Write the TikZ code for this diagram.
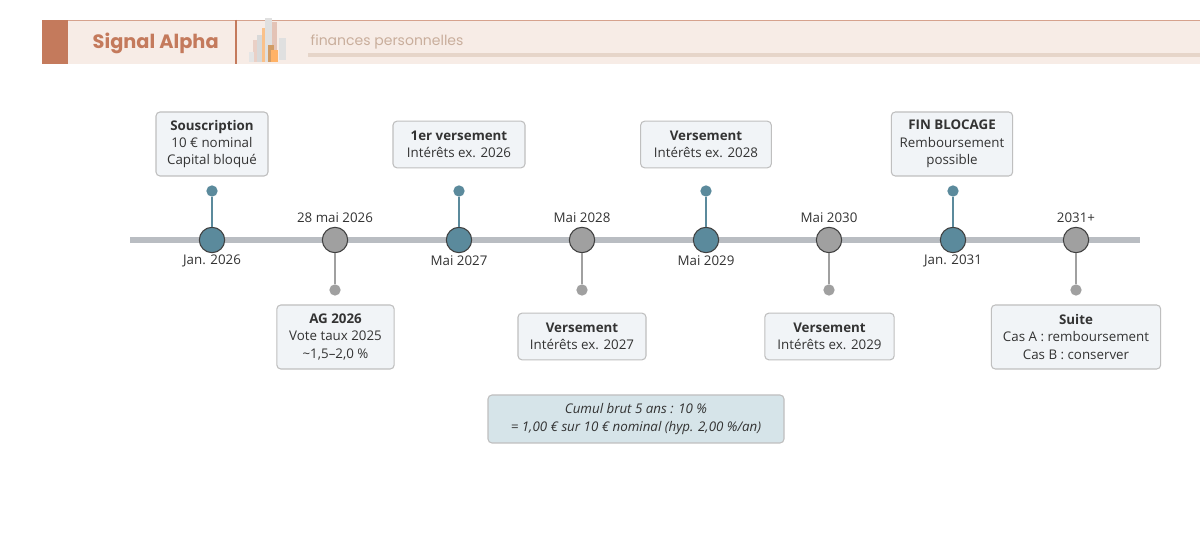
\documentclass[tikz,border=0pt]{standalone}
\usepackage{fontspec}
\setmainfont{Open Sans}
\newfontfamily\pop{Poppins}
\begin{document}
\begin{tikzpicture}[x=0.75pt,y=-0.75pt,
 box/.style={draw=black!25,fill=boxf,rounded corners=3pt,line width=0.8pt,align=center,font=\fontsize{10}{13}\selectfont,text=black!80,inner sep=0pt},
 tdot/.style={circle,fill=teal1,inner sep=0pt,minimum size=8.5pt},
 gdot/.style={circle,fill=gray1,inner sep=0pt,minimum size=8.5pt},
 dlab/.style={font=\fontsize{10}{12}\selectfont,text=black!80}]
\definecolor{hdr}{HTML}{F7ECE6}
\definecolor{sal}{HTML}{C47A5C}
\definecolor{boxf}{HTML}{F1F4F7}
\definecolor{teal1}{HTML}{5B8A9C}
\definecolor{gray1}{HTML}{A0A0A0}
\definecolor{line1}{HTML}{B9BDC2}
\definecolor{sumf}{HTML}{D6E4E9}
\definecolor{subc}{HTML}{C9AE9C}
\definecolor{ulc}{HTML}{E6D5C9}
\useasboundingbox (0,0) rectangle (1200,541);
\fill[white] (0,0) rectangle (1200,541);
% header
\fill[hdr] (42,20) rectangle (1200,64);
\draw[sal!70,line width=0.8pt] (42,20.5) -- (1200,20.5);
\fill[sal] (42,20) rectangle (68,64);
\draw[sal,line width=0.8pt] (236,20) -- (236,64);
\node[anchor=west,text=sal,font=\pop\bfseries\fontsize{14.5}{18}\selectfont] (title) at (88,43) {Signal Alpha};
\fill[sal!35] (253,40) rectangle (258,62);
\fill[black!15] (257,35) rectangle (262,62);
\fill[orange!40!hdr] (262,28) rectangle (270,62);
\fill[black!12] (265,18) rectangle (272,62);
\fill[sal!45] (272,22) rectangle (277,62);
\fill[orange!70!black!60] (268,45) rectangle (274,62);
\fill[orange!60] (271,50) rectangle (278,62);
\fill[black!12] (279,38) rectangle (286,60);
\fill[black!10] (249,52) rectangle (254,62);
\node[anchor=west,text=subc,font=\pop\fontsize{10.5}{12}\selectfont] (sub) at (306,42) {finances personnelles};
\fill[ulc] (308,53) rectangle (1200,57);
% timeline
\draw[line1,line width=4.5pt] (130,240) coordinate (L) -- (1140,240) coordinate (R);
\foreach \n/\x/\c in {a/212/teal1,b/335/gray1,c/459/teal1,d/582/gray1,e/706/teal1,f/829/gray1,g/953/teal1,h/1076/gray1}
  \node[circle,draw=black!75,fill=\c,line width=0.8pt,minimum size=19pt,inner sep=0pt] (\n) at (\x,240) {};
% stems
\foreach \n/\x in {a/212,c/459,e/706,g/953}{
  \node[tdot] (t\n) at (\x,191) {};
  \draw[teal1,line width=1.2pt] (t\n) -- (\n);}
\foreach \n/\x in {b/335,d/582,f/829,h/1076}{
  \node[gdot] (t\n) at (\x,290) {};
  \draw[gray1,line width=1.2pt] (\n) -- (t\n);}
% dates
\node[dlab] (la) at (212,261) {Jan. 2026};
\node[dlab] (lb) at (335,218) {28 mai 2026};
\node[dlab] (lc) at (459,261) {Mai 2027};
\node[dlab] (ld) at (582,218) {Mai 2028};
\node[dlab] (le) at (706,261) {Mai 2029};
\node[dlab] (lf) at (829,218) {Mai 2030};
\node[dlab] (lg) at (953,261) {Jan. 2031};
\node[dlab] (lh) at (1076,218) {2031+};
% boxes
\node[box,minimum width=84pt,minimum height=48pt] (ba) at (212,144) {\textbf{Souscription}\\10 € nominal\\Capital bloqué};
\node[box,minimum width=99pt,minimum height=35pt] (bc) at (459,144.5) {\textbf{1er versement}\\Intérêts ex. 2026};
\node[box,minimum width=98pt,minimum height=35pt] (be) at (706,144.5) {\textbf{Versement}\\Intérêts ex. 2028};
\node[box,minimum width=91pt,minimum height=48pt] (bg) at (952,144) {\textbf{FIN BLOCAGE}\\Remboursement\\possible};
\node[box,minimum width=88pt,minimum height=48pt] (bb) at (335.5,337) {\textbf{AG 2026}\\Vote taux 2025\\\char"007E 1,5–2,0 \%};
\node[box,minimum width=96pt,minimum height=35pt] (bd) at (582,336.5) {\textbf{Versement}\\Intérêts ex. 2027};
\node[box,minimum width=97pt,minimum height=35pt] (bf) at (829.5,336.5) {\textbf{Versement}\\Intérêts ex. 2029};
\node[box,minimum width=127pt,minimum height=48pt] (bh) at (1076,337) {\textbf{Suite}\\Cas A : remboursement\\Cas B : conserver};
\node[box,fill=sumf,minimum width=222pt,minimum height=36pt,font=\itshape\fontsize{10}{13}\selectfont] (sum) at (636,419) {Cumul brut 5 ans : 10 \%\\= 1,00 € sur 10 € nominal (hyp. 2,00 \%/an)};
\end{tikzpicture}
\end{document}
